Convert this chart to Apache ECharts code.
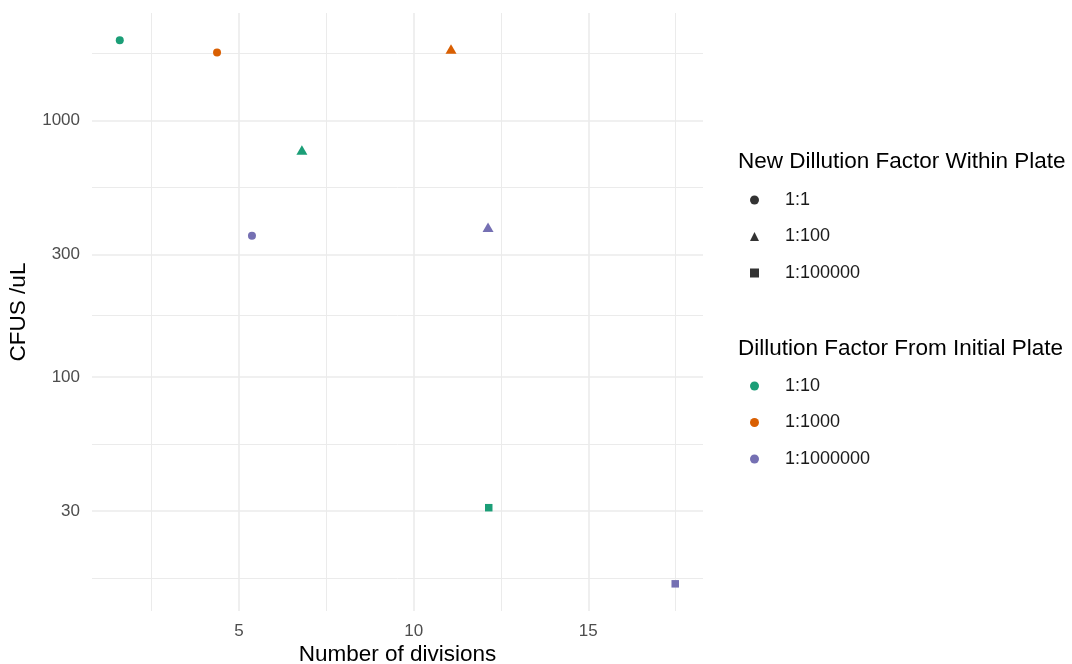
<!DOCTYPE html>
<html>
<head>
<meta charset="utf-8">
<script src="https://cdn.jsdelivr.net/npm/echarts@6/dist/echarts.min.js"></script>
<style>
  html, body { margin: 0; padding: 0; background: #ffffff; }
  #chart { width: 1072px; height: 664px; }
</style>
</head>
<body>
<div id="chart"></div>
<script>
// Colony counts per microlitre against the number of divisions
const divisions       = [1.585, 4.37, 5.37, 6.80, 11.07, 12.13, 12.15, 17.49];
const cfusPerUl       = [2056, 1842, 355, 767, 1901, 383, 30.9, 15.6];
const initialDilution = ['1:10', '1:1000', '1:1000000', '1:10', '1:1000', '1:1000000', '1:10', '1:1000000'];
const plateDilution   = ['1:1', '1:1', '1:1', '1:100', '1:100', '1:100', '1:100000', '1:100000'];

// Legend levels
const initialLevels = ['1:10', '1:1000', '1:1000000'];
const plateLevels   = ['1:1', '1:100', '1:100000'];

// Axis breaks
const xTicks      = [5, 10, 15];
const xMinorTicks = [2.5, 7.5, 12.5, 17.5];
const yTicks      = [30, 100, 300, 1000];

// Styling
const initialColors    = ['#1B9E77', '#D95F02', '#7570B3'];
const plateSymbols     = ['circle', 'triangle', 'rect'];
const plateSymbolSizes = [8, [11, 9.5], 7.5];
const FONT = '"Liberation Sans", Arial, Helvetica, sans-serif';
const GRID_COLOR = '#EBEBEB';

// Axis limits: data range padded by 5% on each side (log space for y)
const xLo = Math.min(...divisions), xHi = Math.max(...divisions);
const xPad = (xHi - xLo) * 0.05;
const lyLo = Math.log10(Math.min(...cfusPerUl)), lyHi = Math.log10(Math.max(...cfusPerUl));
const yPad = (lyHi - lyLo) * 0.05;
const xMin = xLo - xPad, xMax = xHi + xPad;
const yMin = Math.pow(10, lyLo - yPad), yMax = Math.pow(10, lyHi + yPad);

// Minor y breaks sit halfway between major breaks in log space,
// with one extra step beyond each end
const yLog = yTicks.map(Math.log10);
const yExt = [yLog[0] - (yLog[1] - yLog[0])].concat(yLog,
  [yLog[yLog.length - 1] + (yLog[yLog.length - 1] - yLog[yLog.length - 2])]);
const yMinorTicks = [];
for (let i = 0; i < yExt.length - 1; i++) {
  const m = (yExt[i] + yExt[i + 1]) / 2;
  if (m > lyLo - yPad && m < lyHi + yPad) yMinorTicks.push(Math.pow(10, m));
}

const tickLabel = { color: '#4D4D4D', fontSize: 17, fontFamily: FONT };
const majorLine = { color: GRID_COLOR, width: 1.6, type: 'solid' };
const minorLine = { color: GRID_COLOR, width: 1, type: 'solid' };

const gridLines = []
  .concat(yMinorTicks.map(v => ({ yAxis: v, lineStyle: minorLine, label: { show: false } })))
  .concat(xMinorTicks.map(v => ({ xAxis: v, lineStyle: minorLine, label: { show: false } })))
  .concat(yTicks.map(v => ({
    yAxis: v, lineStyle: majorLine,
    label: Object.assign({ show: true, position: 'start', distance: 12, formatter: String(v) }, tickLabel)
  })))
  .concat(xTicks.map(v => ({
    xAxis: v, lineStyle: majorLine,
    label: Object.assign({ show: true, position: 'start', distance: 12, formatter: String(v) }, tickLabel)
  })));

// One series per initial dilution; the symbol encodes the plate dilution
const colourSeries = initialLevels.map((lvl, ci) => {
  const pts = [];
  for (let i = 0; i < divisions.length; i++) {
    if (initialDilution[i] !== lvl) continue;
    const si = plateLevels.indexOf(plateDilution[i]);
    pts.push({
      value: [divisions[i], cfusPerUl[i]],
      symbol: plateSymbols[si],
      symbolSize: plateSymbolSizes[si]
    });
  }
  const s = {
    name: lvl,
    type: 'scatter',
    z: 3,
    symbol: 'circle',
    symbolSize: 8,
    itemStyle: { color: initialColors[ci], opacity: 1 },
    data: pts
  };
  if (ci === 0) {
    s.markLine = {
      silent: true,
      z: 1,
      symbol: ['none', 'none'],
      animation: false,
      emphasis: { disabled: true },
      data: gridLines
    };
  }
  return s;
});

// Shape key: empty series carrying only the symbol
const shapeSeries = plateLevels.map((lvl, si) => ({
  name: lvl,
  type: 'scatter',
  symbol: plateSymbols[si],
  symbolSize: 8,
  itemStyle: { color: '#000000' },
  data: []
}));

const legendText = { color: '#1A1A1A', fontSize: 18, fontFamily: FONT, lineHeight: 18 };
const titleText = { color: '#000000', fontSize: 22.5, fontWeight: 'normal', fontFamily: FONT };

const chart = echarts.init(document.getElementById('chart'), null, { renderer: 'canvas' });
chart.setOption({
  animation: false,
  backgroundColor: '#ffffff',
  title: [
    { text: 'New Dillution Factor Within Plate', left: 738, top: 150, padding: 0, textStyle: titleText },
    { text: 'Dillution Factor From Initial Plate', left: 738, top: 337, padding: 0, textStyle: titleText }
  ],
  legend: [
    {
      orient: 'vertical', left: 750, top: 191, padding: 0,
      itemWidth: 9, itemHeight: 9, itemGap: 18.5,
      selectedMode: false,
      data: plateLevels.map((n, i) => ({ name: n, icon: plateSymbols[i] })),
      textStyle: Object.assign({ padding: [0, 0, 0, 21] }, legendText)
    },
    {
      orient: 'vertical', left: 750, top: 377, padding: 0,
      itemWidth: 9, itemHeight: 9, itemGap: 18.5,
      selectedMode: false,
      data: initialLevels.map(n => ({ name: n, icon: 'circle' })),
      textStyle: Object.assign({ padding: [0, 0, 0, 21] }, legendText)
    }
  ],
  grid: { left: 92, top: 13, width: 611, height: 598, containLabel: false, outerBoundsMode: 'none' },
  xAxis: {
    type: 'value',
    min: xMin, max: xMax,
    name: 'Number of divisions',
    nameLocation: 'middle',
    nameGap: 32,
    nameTextStyle: { color: '#000000', fontSize: 22.5, fontFamily: FONT },
    axisLine: { show: false }, axisTick: { show: false },
    axisLabel: { show: false }, splitLine: { show: false }
  },
  yAxis: {
    type: 'log', logBase: 10,
    min: yMin, max: yMax,
    name: 'CFUS /uL',
    nameLocation: 'middle',
    nameRotate: 90,
    nameGap: 62,
    nameTextStyle: { color: '#000000', fontSize: 22.5, fontFamily: FONT },
    axisLine: { show: false }, axisTick: { show: false },
    axisLabel: { show: false }, splitLine: { show: false }, minorSplitLine: { show: false }
  },
  series: colourSeries.concat(shapeSeries)
});
</script>
</body>
</html>
